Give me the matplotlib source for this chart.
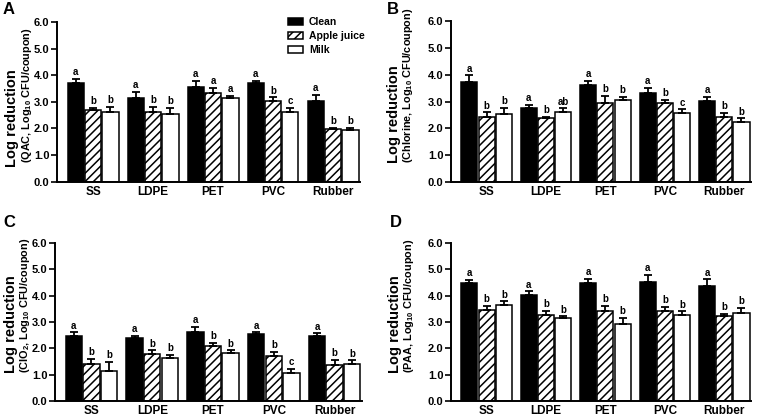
import numpy as np
import matplotlib
matplotlib.use("Agg")
import matplotlib.pyplot as plt

plt.rcParams['font.family'] = ['Liberation Sans', 'DejaVu Sans']
plt.rcParams['font.weight'] = 'bold'
plt.rcParams['mathtext.fontset'] = 'custom'
plt.rcParams['mathtext.rm'] = 'Liberation Sans:bold'
plt.rcParams['mathtext.it'] = 'Liberation Sans:bold'
plt.rcParams['mathtext.bf'] = 'Liberation Sans:bold'
plt.rcParams['hatch.linewidth'] = 1.1

surfaces = ["SS", "LDPE", "PET", "PVC", "Rubber"]
conditions = ["Clean", "Apple juice", "Milk"]

# panel A: QAC
qac_clean = [3.70, 3.16, 3.57, 3.70, 3.05]
qac_clean_err = [0.16, 0.22, 0.22, 0.10, 0.21]
qac_apple = [2.70, 2.61, 3.35, 3.03, 1.97]
qac_apple_err = [0.08, 0.21, 0.17, 0.14, 0.06]
qac_milk = [2.61, 2.53, 3.13, 2.61, 1.94]
qac_milk_err = [0.21, 0.25, 0.10, 0.17, 0.09]
qac_letters = [["a", "b", "b"], ["a", "b", "b"], ["a", "a", "a"], ["a", "b", "c"], ["a", "b", "b"]]

# panel B: chlorine
chl_clean = [3.74, 2.75, 3.62, 3.33, 3.03]
chl_clean_err = [0.23, 0.12, 0.16, 0.19, 0.15]
chl_apple = [2.43, 2.37, 2.96, 2.93, 2.41]
chl_apple_err = [0.17, 0.06, 0.25, 0.14, 0.17]
chl_milk = [2.52, 2.62, 3.06, 2.56, 2.22]
chl_milk_err = [0.25, 0.13, 0.12, 0.15, 0.15]
chl_letters = [["a", "b", "b"], ["a", "b", "ab"], ["a", "b", "b"], ["a", "b", "c"], ["a", "b", "b"]]

# panel C: ClO2
clo_clean = [2.46, 2.38, 2.63, 2.55, 2.48]
clo_clean_err = [0.15, 0.10, 0.19, 0.06, 0.09]
clo_apple = [1.42, 1.79, 2.08, 1.69, 1.38]
clo_apple_err = [0.19, 0.13, 0.12, 0.17, 0.19]
clo_milk = [1.13, 1.63, 1.83, 1.07, 1.42]
clo_milk_err = [0.35, 0.13, 0.09, 0.16, 0.12]
clo_letters = [["a", "b", "b"], ["a", "b", "b"], ["a", "b", "b"], ["a", "b", "c"], ["a", "b", "b"]]

# panel D: PAA
paa_clean = [4.49, 4.03, 4.47, 4.52, 4.37]
paa_clean_err = [0.11, 0.13, 0.18, 0.26, 0.25]
paa_apple = [3.47, 3.26, 3.43, 3.43, 3.21]
paa_apple_err = [0.14, 0.16, 0.19, 0.15, 0.10]
paa_milk = [3.63, 3.16, 2.93, 3.27, 3.33]
paa_milk_err = [0.15, 0.06, 0.23, 0.13, 0.20]
paa_letters = [["a", "b", "b"], ["a", "b", "b"], ["a", "b", "b"], ["a", "b", "b"], ["a", "b", "b"]]

W, H = 767, 420
fig = plt.figure(figsize=(W / 100, H / 100), dpi=100)


def px_axes(left, right, top, bottom):
    return fig.add_axes([left / W, 1 - bottom / H, (right - left) / W, (bottom - top) / H])


def draw_panel(ax, clean, clean_err, apple, apple_err, milk, milk_err, letters):
    x = np.arange(len(surfaces))
    offs = [-0.29, 0.0, 0.29]
    series = [(clean, clean_err, "black", ""), (apple, apple_err, "white", "////"),
              (milk, milk_err, "white", "")]
    for k, (vals, errs, fc, hatch) in enumerate(series):
        ax.bar(x + offs[k], vals, width=0.27, color=fc, edgecolor="black",
               linewidth=1.1, hatch=hatch, label=conditions[k], zorder=2)
        ax.errorbar(x + offs[k], vals, yerr=[np.zeros(len(vals)), errs], fmt="none",
                    ecolor="black", elinewidth=1.3, capsize=3.2, capthick=1.3, zorder=3)
        for i in range(len(vals)):
            ax.annotate(letters[i][k], (x[i] + offs[k], vals[i] + errs[i]),
                        xytext=(0, 1.2), textcoords="offset points",
                        ha="center", va="bottom", fontsize=7, fontweight="bold")
    ax.set_ylim(0, 6)
    ax.set_xlim(-0.6, 4.45)
    ax.set_yticks(np.arange(0, 7, 1))
    ax.set_yticklabels(["%.1f" % v for v in np.arange(0, 7, 1)])
    ax.set_xticks(x)
    ax.set_xticklabels(surfaces)
    ax.spines["top"].set_visible(False)
    ax.spines["right"].set_visible(False)
    ax.spines["left"].set_linewidth(1.4)
    ax.spines["bottom"].set_linewidth(1.4)
    ax.tick_params(axis="y", length=4, width=1.2, pad=1.5, labelsize=8)
    ax.tick_params(axis="x", length=0, pad=3, labelsize=8.5)
    for t in ax.get_xticklabels() + ax.get_yticklabels():
        t.set_fontweight("bold")


axA = px_axes(57, 360, 22, 181.7)
draw_panel(axA, qac_clean, qac_clean_err, qac_apple, qac_apple_err, qac_milk, qac_milk_err, qac_letters)
axB = px_axes(451, 751, 21, 182)
draw_panel(axB, chl_clean, chl_clean_err, chl_apple, chl_apple_err, chl_milk, chl_milk_err, chl_letters)
axC = px_axes(55, 362, 243, 401)
draw_panel(axC, clo_clean, clo_clean_err, clo_apple, clo_apple_err, clo_milk, clo_milk_err, clo_letters)
axD = px_axes(451, 751, 243, 401)
draw_panel(axD, paa_clean, paa_clean_err, paa_apple, paa_apple_err, paa_milk, paa_milk_err, paa_letters)

axA.legend(loc="upper left", bbox_to_anchor=(288 / W, 1 - 17 / H), bbox_transform=fig.transFigure,
           frameon=False, fontsize=7.5, handlelength=1.4, handleheight=0.6,
           handletextpad=0.6, labelspacing=0.4, borderpad=0, borderaxespad=0)

# y labels (two lines)
ylabels = [(12.5, 27, 167, 163, "(QAC, Log$_{10}$ CFU/coupon)"),
           (394, 408, 163, 163, "(Chlorine, Log$_{10}$ CFU/coupon)"),
           (11.5, 25.5, 373, 373, "(ClO$_2$, Log$_{10}$ CFU/coupon)"),
           (394.5, 409, 373, 373, "(PAA, Log$_{10}$ CFU/coupon)")]
for x1, x2, b1, b2, sub in ylabels:
    fig.text(x1 / W, 1 - b1 / H, "Log reduction", rotation=90, ha="center", va="bottom",
             fontsize=10.5, fontweight="bold")
    fig.text(x2 / W, 1 - b2 / H, sub, rotation=90, ha="center", va="bottom",
             fontsize=7.8, fontweight="bold")

# panel letters
for lab, px, py in [("A", 3, 2), ("B", 387, 2), ("C", 3, 215), ("D", 390, 215)]:
    fig.text(px / W, 1 - py / H, lab, ha="left", va="top", fontsize=12, fontweight="bold")

fig.savefig("out.png", dpi=100)
